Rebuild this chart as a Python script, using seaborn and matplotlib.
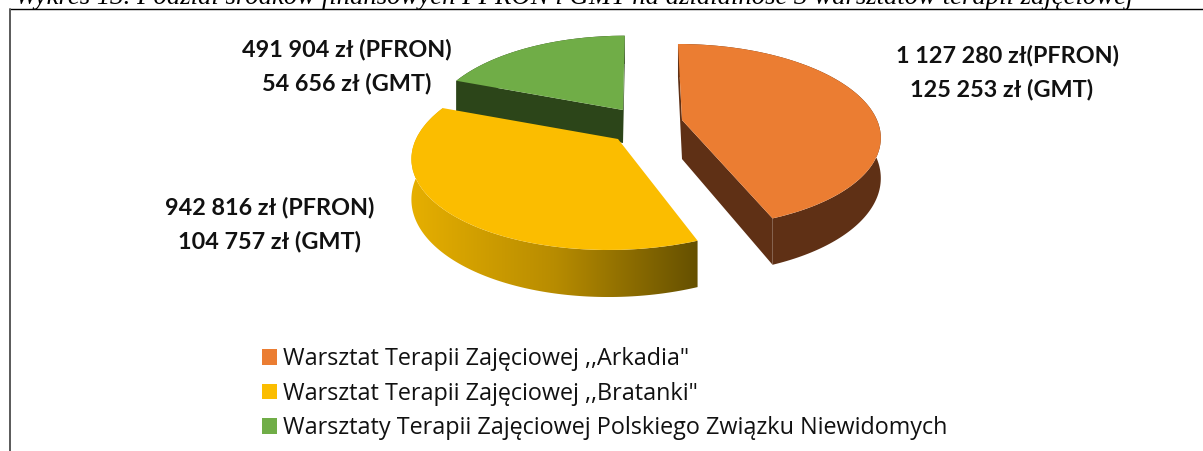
import numpy as np
import matplotlib
matplotlib.use("Agg")
import matplotlib.pyplot as plt
import matplotlib.transforms as mtransforms
from matplotlib.colors import LinearSegmentedColormap
from matplotlib.patches import Polygon
import seaborn as sns

# data
names = ['Warsztat Terapii Zajęciowej ,,Arkadia"',
         'Warsztat Terapii Zajęciowej ,,Bratanki"',
         'Warsztaty Terapii Zajęciowej Polskiego Związku Niewidomych']
pfron = [1127280, 942816, 491904]
gmt = [125253, 104757, 54656]
label_pfron = ['1 127 280 zł(PFRON)', '942 816 zł (PFRON)', '491 904 zł (PFRON)']
label_gmt = ['125 253 zł (GMT)', '104 757 zł (GMT)', '54 656 zł (GMT)']
title = 'Wykres 13. Podział środków finansowych PFRON i GMT na działalność 3 warsztatów terapii zajęciowej'

top_colors = ['#EB7D32', '#FBBD00', '#70AD47']
side_colors = ['#5F3015', '#C99800', '#2C4519']

# slice geometry in pixels: centre x, centre y, radius x, radius y, lean, depth, layer
slice_geo = [(682, 120, 195, 89, -4.7, 39, 3),
             (618, 139, 202, 92, 8, 39, 5),
             (623, 110, 190, 87, 2, 33, 1)]
persp_k = 0.171


class Persp(mtransforms.Transform):
    input_dims = 2
    output_dims = 2

    def __init__(self, cx, cy, rx, ry, lean):
        super().__init__()
        self.cx, self.cy, self.rx, self.ry, self.lean = cx, cy, rx, ry, lean

    def project(self, u, v, h=0):
        s = 1 / (1 + persp_k * v)
        return self.cx + (self.rx * u + self.lean * v) * s, self.cy + (h - self.ry * v) * s

    def transform_non_affine(self, xy):
        xy = np.asarray(xy, dtype=float)
        x, y = self.project(xy[:, 0], xy[:, 1])
        return np.column_stack((x, y))


def outer_band(p, th1, th2, depth):
    t = np.radians(np.linspace(th1, th2, 150))
    x0, y0 = p.project(np.cos(t), np.sin(t))
    x1, y1 = p.project(np.cos(t), np.sin(t), depth)
    return np.r_[x0, x1[::-1]], np.r_[y0, y1[::-1]]


def edge_band(p, th, depth):
    u, v = np.cos(np.radians(th)), np.sin(np.radians(th))
    x = [p.project(0, 0)[0], p.project(u, v)[0], p.project(u, v, depth)[0], p.project(0, 0, depth)[0]]
    y = [p.project(0, 0)[1], p.project(u, v)[1], p.project(u, v, depth)[1], p.project(0, 0, depth)[1]]
    return x, y


sns.set_theme(style="white")
plt.rcParams['font.family'] = ['Open Sans', 'DejaVu Sans']

totals = np.array(pfron) + np.array(gmt)

fig = plt.figure(figsize=(12.03, 4.51), dpi=100)
ax = fig.add_axes([0, 0, 1, 1])
wedges, _ = ax.pie(totals, colors=top_colors, startangle=90, counterclock=False,
                   wedgeprops={'edgecolor': 'none', 'linewidth': 0})
ax.set_aspect('auto')

for i, w in enumerate(wedges):
    cx, cy, rx, ry, lean, depth, layer = slice_geo[i]
    p = Persp(cx, cy, rx, ry, lean)
    w.set_transform(p + ax.transData)
    w.set_zorder(layer + 1)
    x, y = outer_band(p, w.theta1, w.theta2, depth)
    if i == 1:
        # yellow wall has a left to right gradient
        cmap = LinearSegmentedColormap.from_list('wall', ['#E6AF00', '#B88C00', '#655000'])
        clip = Polygon(np.column_stack((x, y)), transform=ax.transData)
        im = ax.imshow(np.linspace(0, 1, 256)[None, :], cmap=cmap, aspect='auto',
                       extent=(x.min(), x.max(), y.max(), y.min()), zorder=layer)
        im.set_clip_path(clip)
    else:
        ax.fill(x, y, color=side_colors[i], lw=0, zorder=layer)
        for th in (w.theta1, w.theta2):
            ex, ey = edge_band(p, th, depth)
            ax.fill(ex, ey, color=side_colors[i], lw=0, zorder=layer)

ax.set_xlim(0, 1203)
ax.set_ylim(451, 0)
ax.set_axis_off()

# labels
label_pos = [((1008, 56), (1002, 89)), ((270, 208), (270, 242)), ((347, 50), (347, 84))]
for i in range(3):
    for txt, pos in zip((label_pfron[i], label_gmt[i]), label_pos[i]):
        ax.text(pos[0], pos[1], txt, ha='center', va='center', fontsize=16.8, fontweight='bold',
                family=['Lato', 'DejaVu Sans'], color='#111111', zorder=10)

# caption cut by the page edge
ax.text(15, 4, title, ha='left', va='baseline', fontsize=19.25, style='italic',
        family=['Liberation Serif'], color='black')

# chart frame
ax.plot([9.5, 1203], [8.5, 8.5], color='black', lw=1, zorder=9)
ax.plot([9.5, 9.5], [8.5, 451], color='#595959', lw=1.4, zorder=9)

leg = ax.legend(wedges, names, loc='upper left', bbox_to_anchor=(262 / 1203, 1 - 347 / 451),
                frameon=False, fontsize=16.8, handlelength=0.65, handleheight=0.65,
                handletextpad=0.27, labelspacing=0.46, borderpad=0, borderaxespad=0,
                labelcolor='#111111')

fig.savefig('out.png', dpi=100)
